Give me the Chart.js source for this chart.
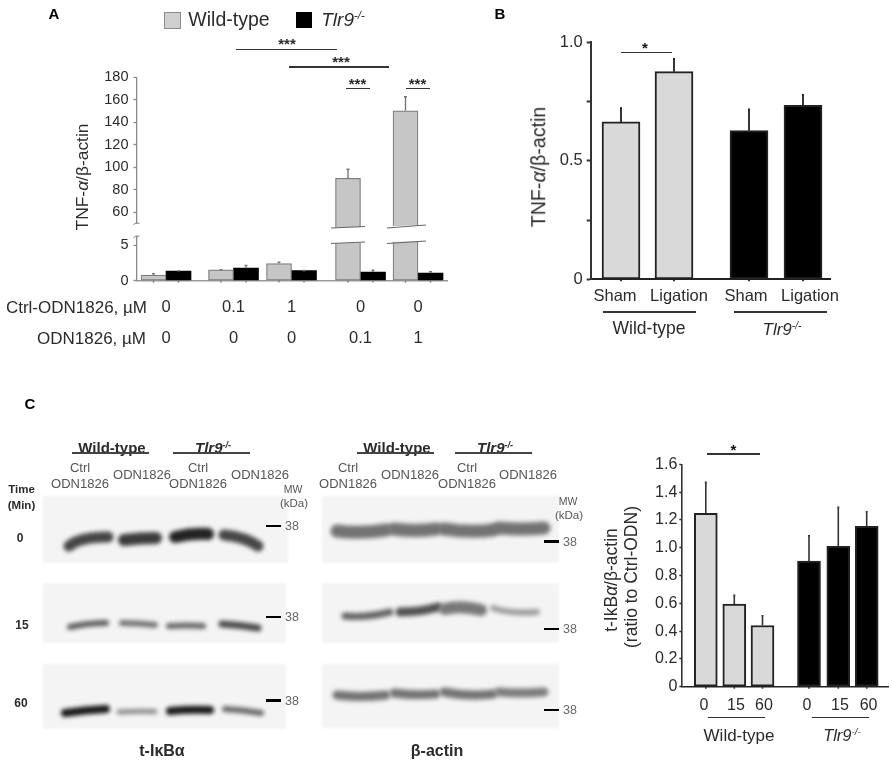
<!DOCTYPE html>
<html>
<head>
<meta charset="utf-8">
<script src="https://cdn.jsdelivr.net/npm/chart.js@4/dist/chart.umd.js"></script>
<style>
html, body { margin: 0; padding: 0; background: #fff; }
#fig { position: relative; width: 893px; height: 765px; overflow: hidden; filter: blur(0.55px); font-family: "Liberation Sans", Arial, sans-serif; color: #2b2b2b; }
#fig canvas { position: absolute; }
.t { position: absolute; white-space: nowrap; transform: translate(-50%, -50%); line-height: 1; }
.v { transform: translate(-50%, -50%) rotate(-90deg); }
.r { transform: translate(-100%, -50%); }
.b { font-weight: bold; }
.rule { position: absolute; }
sup { font-size: 0.6em; line-height: 0; vertical-align: 0.55em; }
</style>
</head>
<body>
<div id="fig">
  <canvas id="blots" width="893" height="765" style="left:0;top:0"></canvas>
  <canvas id="chartA" style="left:60px;top:60px"></canvas>
  <canvas id="chartB" style="left:545px;top:25px"></canvas>
  <canvas id="chartC" style="left:645px;top:440px"></canvas>
</div>
<script>
var KO = "<i>Tlr9<sup>-/-</sup></i>";
var GREEK_TITLE = "TNF-<i>&alpha;</i>/&beta;-actin";

// panel A
var ctrlDoses = ["0", "0.1", "1", "0", "0"];
var odnDoses = ["0", "0", "0", "0.1", "1"];
var aWild = [0.78, 1.5, 2.4, 90, 150];
var aWildErr = [0.2, 0.05, 0.2, 8, 12.5];
var aKo = [1.35, 1.75, 1.4, 1.2, 1.05];
var aKoErr = [0.02, 0.4, 0.03, 0.25, 0.2];
var aTicks = [0, 5, 60, 80, 100, 120, 140, 160, 180];

// panel B
var bCats = ["Sham", "Ligation", "Sham", "Ligation"];
var bVals = [0.664, 0.876, 0.627, 0.734];
var bErr = [0.058, 0.054, 0.09, 0.044];
var bTicks = [0, 0.25, 0.5, 0.75, 1];
var bTickLabels = ["0", "", "0.5", "", "1.0"];

// panel C chart
var cCats = ["0", "15", "60", "0", "15", "60"];
var cVals = [1.247, 0.595, 0.44, 0.904, 1.01, 1.154];
var cErr = [0.223, 0.062, 0.07, 0.182, 0.28, 0.105];
var cTicks = [0, 0.2, 0.4, 0.6, 0.8, 1, 1.2, 1.4, 1.6];
var cTickLabels = ["0", "0.2", "0.4", "0.6", "0.8", "1.0", "1.2", "1.4", "1.6"];

var WT_FILL = "#d9d9d9";

// category axis whose slots sit where the figure has them (groups are not evenly spaced)
class PlacedScale extends Chart.CategoryScale {
    static id = "placed";
    static defaults = {};
    getPixelForValue(value) {
        var i = typeof value === "number" ? value : this.parse(value);
        return this.left + this.options.slots[i];
    }
    getPixelForTick(index) {
        var s = this.options.labelSlots || this.options.slots;
        return this.left + s[index];
    }
}

// value axis with a cut between lowTop and highBottom
class BrokenScale extends Chart.LinearScale {
    static id = "broken";
    static defaults = {};
    buildTicks() {
        return aTicks.map(function (v) { return { value: v }; });
    }
    getPixelForValue(v) {
        var o = this.options;
        var h;
        if (v <= o.lowTop) h = v * o.lowPx;
        else if (v <= o.highBottom) h = o.lowTop * o.lowPx + (v - o.lowTop) / (o.highBottom - o.lowTop) * o.gapPx;
        else h = o.lowTop * o.lowPx + o.gapPx + (v - o.highBottom) * o.highPx;
        return this.bottom - h;
    }
}
Chart.register(PlacedScale, BrokenScale);
Chart.defaults.font.family = '"Liberation Sans", Arial, sans-serif';
Chart.defaults.color = "#2b2b2b";
Chart.defaults.animation = false;

var whiskers = {
    id: "whiskers",
    afterDatasetsDraw: function (chart, args, opts) {
        var ctx = chart.ctx;
        ctx.save();
        ctx.strokeStyle = opts.color;
        ctx.lineWidth = opts.width;
        chart.data.datasets.forEach(function (ds, i) {
            chart.getDatasetMeta(i).data.forEach(function (bar, j) {
                var top = chart.scales.y.getPixelForValue(ds.data[j] + ds.errors[j]);
                ctx.beginPath();
                ctx.moveTo(bar.x, bar.y);
                ctx.lineTo(bar.x, top);
                ctx.moveTo(bar.x - opts.cap, top);
                ctx.lineTo(bar.x + opts.cap, top);
                ctx.stroke();
                // small stub under the x axis
                ctx.beginPath();
                ctx.moveTo(bar.x, chart.scales.y.bottom);
                ctx.lineTo(bar.x, chart.scales.y.bottom + 2);
                ctx.stroke();
            });
        });
        ctx.restore();
    },
};

// white cut through the tall bars and the y axis of panel A
var axisBreak = {
    id: "axisBreak",
    afterDatasetsDraw: function (chart) {
        var ctx = chart.ctx;
        var ax = chart.scales.y.left + chart.scales.y.width;
        var yOf = function (p) { return p - 60; };
        ctx.save();
        ctx.fillStyle = "#fff";
        ctx.beginPath();
        ctx.moveTo(331 - 60, yOf(228));
        ctx.lineTo(426 - 60, yOf(225));
        ctx.lineTo(426 - 60, yOf(241));
        ctx.lineTo(331 - 60, yOf(243.5));
        ctx.closePath();
        ctx.fill();
        ctx.fillRect(ax - 3, yOf(224), 6, 12);
        ctx.strokeStyle = "#666";
        ctx.lineWidth = 1;
        [[331, 228, 365, 226.5], [331, 243.5, 365, 242], [387, 228, 426, 225], [387, 243.5, 426, 241]].forEach(function (s) {
            ctx.beginPath();
            ctx.moveTo(s[0] - 60, yOf(s[1]));
            ctx.lineTo(s[2] - 60, yOf(s[3]));
            ctx.stroke();
        });
        ctx.strokeStyle = "#888";
        [223.5, 236.5].forEach(function (p) {
            ctx.beginPath();
            ctx.moveTo(ax - 3, yOf(p + 1));
            ctx.quadraticCurveTo(ax, yOf(p - 2), ax + 3, yOf(p));
            ctx.stroke();
        });
        ctx.restore();
    },
};

function makeChart(id, w, h, area, config) {
    var canvas = document.getElementById(id);
    var r = canvas.getBoundingClientRect();
    config.options.responsive = false;
    config.options.layout = { padding: { top: area.top - r.top, right: r.left + w - area.right, left: 0, bottom: 0 } };
    config.options.plugins = Object.assign({ legend: { display: false }, tooltip: { enabled: false } }, config.options.plugins);
    config.options.scales.y.afterFit = function (s) { s.width = area.left - r.left; };
    config.options.scales.x.afterFit = function (s) { s.height = r.top + h - area.bottom; };
    canvas.width = w;
    canvas.height = h;
    canvas.style.width = w + "px";
    canvas.style.height = h + "px";
    return new Chart(canvas, config);
}

function yAxis(color, width, tickLen, size, extra) {
    return Object.assign({
        beginAtZero: true,
        border: { color: color, width: width },
        grid: { drawOnChartArea: false, tickLength: tickLen, tickColor: color, tickWidth: width },
        ticks: { font: { size: size }, padding: 5, autoSkip: false },
    }, extra);
}

function listTicks(list) {
    return function (s) { s.ticks = list.map(function (v) { return { value: v }; }); };
}

makeChart("chartA", 400, 300, { left: 136.5, right: 447, top: 77.3, bottom: 280.6 }, {
    type: "bar",
    data: {
        labels: ctrlDoses.map(function (d, i) { return [d, odnDoses[i]]; }),
        datasets: [
            { label: "Wild-type", data: aWild, errors: aWildErr, backgroundColor: "#c6c6c6", borderColor: "#7c7c7c", borderWidth: 1.2, borderSkipped: false, barThickness: 25 },
            { label: "Tlr9-/-", data: aKo, errors: aKoErr, backgroundColor: "#000", borderColor: "#000", borderWidth: 0, barThickness: 25 },
        ],
    },
    options: {
        plugins: { whiskers: { color: "#777", width: 1.4, cap: 1.5 } },
        scales: {
            x: {
                type: "placed", slots: [29.5, 97, 155, 224, 281.5],
                border: { color: "#999", width: 1.5 },
                grid: { display: false, drawTicks: false },
                ticks: { font: { size: 16.5, lineHeight: 1.88 }, padding: 11, maxRotation: 0, autoSkip: false },
            },
            y: yAxis("#8a8a8a", 1.3, 3, 14.5, {
                type: "broken", min: 0, max: 180, lowTop: 6, highBottom: 50,
                lowPx: 7.1, gapPx: 14.7, highPx: 1.125,
            }),
        },
    },
    plugins: [whiskers, axisBreak],
});

makeChart("chartB", 348, 330, { left: 590.7, right: 830, top: 42.3, bottom: 279.3 }, {
    type: "bar",
    data: {
        labels: bCats,
        datasets: [{
            data: bVals, errors: bErr,
            backgroundColor: bVals.map(function (v, i) { return i < 2 ? WT_FILL : "#000"; }),
            borderColor: "#222", borderWidth: 2, borderSkipped: false, barThickness: 38,
        }],
    },
    options: {
        plugins: { whiskers: { color: "#222", width: 1.8, cap: 1 } },
        scales: {
            x: {
                type: "placed", slots: [30.3, 83.3, 158.3, 212.3], labelSlots: [24.3, 88.3, 155.3, 219.3],
                border: { color: "#222", width: 2 },
                grid: { display: false, drawTicks: false },
                ticks: { font: { size: 16.5 }, padding: 7, maxRotation: 0, autoSkip: false },
            },
            y: yAxis("#333", 2, 4, 16.5, {
                min: 0, max: 1, afterBuildTicks: listTicks(bTicks),
                ticks: { font: { size: 16.5 }, padding: 4, autoSkip: false, callback: function (v, i) { return bTickLabels[i]; } },
            }),
        },
    },
    plugins: [whiskers],
});

makeChart("chartC", 248, 310, { left: 682.3, right: 888, top: 464.3, bottom: 686.7 }, {
    type: "bar",
    data: {
        labels: cCats,
        datasets: [{
            data: cVals, errors: cErr,
            backgroundColor: cVals.map(function (v, i) { return i < 3 ? WT_FILL : "#000"; }),
            borderColor: "#222", borderWidth: 2, borderSkipped: false, barThickness: 23,
        }],
    },
    options: {
        plugins: { whiskers: { color: "#333", width: 1.6, cap: 1 } },
        scales: {
            x: {
                type: "placed", slots: [23.5, 52, 80.2, 126.7, 156, 184.4], labelSlots: [21.7, 53.7, 81.7, 124.7, 157.7, 186.3],
                border: { color: "#222", width: 1.6 },
                grid: { display: false, drawTicks: false },
                ticks: { font: { size: 16 }, padding: 9, maxRotation: 0, autoSkip: false },
            },
            y: yAxis("#333", 1.6, 3, 16, {
                min: 0, max: 1.6, afterBuildTicks: listTicks(cTicks),
                ticks: { font: { size: 16 }, padding: 2, autoSkip: false, callback: function (v, i) { return cTickLabels[i]; } },
            }),
        },
    },
    plugins: [whiskers],
});

// ---- everything that is not a chart: labels, rules, blot images
var fig = document.getElementById("fig");

function text(x, y, html, size, cls, color) {
    var n = document.createElement("div");
    n.className = "t " + (cls || "");
    n.style.left = x + "px";
    n.style.top = y + "px";
    n.style.fontSize = size + "px";
    if (color) n.style.color = color;
    n.innerHTML = html;
    fig.appendChild(n);
}

function rule(x0, x1, y, h, color) {
    var n = document.createElement("div");
    n.className = "rule";
    n.style.cssText = "left:" + x0 + "px;top:" + (y - h / 2) + "px;width:" + (x1 - x0) + "px;height:" + h + "px;background:" + (color || "#333");
    fig.appendChild(n);
}

function swatch(x, y, s, fill, border) {
    var n = document.createElement("div");
    n.className = "rule";
    n.style.cssText = "box-sizing:border-box;left:" + x + "px;top:" + y + "px;width:" + s + "px;height:" + s + "px;background:" + fill + ";border:1px solid " + border;
    fig.appendChild(n);
}

text(54, 13, "A", 15, "b", "#000");
text(500, 13, "B", 15, "b", "#000");
text(30, 403, "C", 15, "b", "#000");

// panel A annotation
swatch(164, 12, 17, "#d0d0d0", "#8c8c8c");
swatch(296, 12, 16, "#000", "#000");
text(229, 19.5, "Wild-type", 19.5);
text(343, 19, KO, 19);
text(82.5, 177, GREEK_TITLE, 17.4, "v");
text(147, 307, "Ctrl-ODN1826, &micro;M", 17, "r");
text(146, 338, "ODN1826, &micro;M", 17, "r");
rule(236, 337, 49.7, 1.4);
rule(289, 389, 67, 1.4);
rule(346, 370, 88.7, 1.6);
rule(406, 430, 88.7, 1.6);
text(287, 43, "***", 15, "b");
text(341, 61, "***", 15, "b");
text(357.5, 83, "***", 15, "b");
text(417.5, 83, "***", 15, "b");

// panel B annotation
text(539, 167, GREEK_TITLE, 19.6, "v");
rule(621, 672, 52.3, 1.4);
text(645, 47, "*", 15, "b", "#111");
rule(603, 696, 312, 1.4);
rule(734, 827, 312, 1.4);
text(649, 329, "Wild-type", 17.5);
text(782, 329, KO, 17);

// panel C chart annotation
text(612, 580, "t-IkB<i>&alpha;</i>/&beta;-actin", 17.5, "v");
text(632, 577, "(ratio to Ctrl-ODN)", 17.5, "v");
rule(707, 760, 454, 1.4);
text(733.5, 449, "*", 15, "b", "#111");
rule(708, 765, 717.7, 1.4);
rule(812, 869, 717.7, 1.4);
text(739, 735, "Wild-type", 17);
text(842, 735, KO, 16.5);

// blot headers
function blotHeader(h) {
    text(h.wt, 447, "Wild-type", 15, "b");
    text(h.ko, 447, KO, 15, "b");
    rule(h.wt - 40, h.wt + 37, 453, 1.3, "#444");
    rule(h.ko - 40, h.ko + 37, 453, 1.3, "#444");
    h.ctrl.forEach(function (x) {
        text(x, 466.5, "Ctrl", 13, "", "#555");
        text(x, 482.5, "ODN1826", 13, "", "#555");
    });
    h.odn.forEach(function (x) { text(x, 473.5, "ODN1826", 13, "", "#555"); });
    text(h.mw, h.mwY, "MW", 10.5, "", "#555");
    text(h.mw + 1, h.mwY + 15, "(kDa)", 11.5, "", "#555");
    h.marks.forEach(function (y) {
        rule(h.dash, h.dash + 15, y, 2.5, "#000");
        text(h.dash + 26, y, "38", 12.5, "", "#666");
    });
}
blotHeader({ wt: 112, ko: 213, ctrl: [80, 198], odn: [142, 260], mw: 293, mwY: 489, dash: 266, marks: [526, 617, 700.5] });
blotHeader({ wt: 397, ko: 495, ctrl: [348, 467], odn: [410, 528], mw: 568, mwY: 500.5, dash: 544, marks: [541.5, 629, 710] });

text(21.5, 490, "Time", 11.5, "b");
text(21.5, 506, "(Min)", 11.5, "b");
text(20, 538, "0", 12, "b");
text(22, 625, "15", 12, "b");
text(21, 703, "60", 12, "b");
text(162, 751, "t-I&kappa;B&alpha;", 16, "b");
text(437, 751, "&beta;-actin", 16, "b");

// blot membranes and bands: x0, y0, cx, cy, x1, y1, thickness, grey
var blotPanels = [[43, 496, 245, 67], [43, 583, 243, 60], [43, 664, 243, 65], [322, 496, 237, 67], [322, 583, 237, 60], [322, 664, 237, 64]];
var tIkbBands = [
    [69, 546, 80, 537, 108, 537, 11, 70], [124, 540, 140, 538, 156, 538, 12, 60], [175, 537, 192, 533, 208, 534, 12, 35], [224, 535, 245, 537, 258, 546, 11, 70],
    [70, 627, 88, 623, 106, 623, 6, 95], [122, 623, 138, 623, 155, 625, 6, 115], [169, 626, 186, 625, 203, 626, 6, 105], [222, 624, 240, 625, 258, 628, 7, 75],
    [65, 713, 85, 710, 106, 709, 8, 25], [119, 712, 137, 711, 155, 711.5, 5, 140], [170, 711, 190, 709, 210, 710, 8, 25], [225, 709, 243, 710, 261, 713, 6, 105],
];
var actinBands = [
    [337, 531, 360, 534, 386, 530, 13, 115], [394, 529, 415, 532, 436, 529, 13, 115], [444, 529, 470, 533, 493, 530, 13, 115], [499, 528, 520, 530, 544, 528, 13, 115],
    [345, 616, 365, 618, 390, 612, 7, 100], [400, 612, 420, 612, 438, 607, 9, 80], [445, 609, 460, 605, 481, 610, 12, 120], [493, 608, 510, 614, 537, 612, 6, 155],
    [337, 695, 360, 698, 386, 695, 9, 115], [394, 693, 415, 696, 436, 694, 9, 115], [444, 692, 470, 697, 493, 694, 9, 115], [499, 692, 520, 694, 544, 692, 9, 125],
];

var bctx = document.getElementById("blots").getContext("2d");
bctx.filter = "blur(1px)";
bctx.fillStyle = "#f4f4f4";
blotPanels.forEach(function (p) { bctx.fillRect(p[0], p[1], p[2], p[3]); });
bctx.filter = "blur(2.2px)";
bctx.lineCap = "round";
tIkbBands.concat(actinBands).forEach(function (b) {
    bctx.strokeStyle = "rgb(" + b[7] + "," + b[7] + "," + b[7] + ")";
    bctx.lineWidth = b[6];
    bctx.beginPath();
    bctx.moveTo(b[0], b[1]);
    bctx.quadraticCurveTo(b[2], b[3], b[4], b[5]);
    bctx.stroke();
});
</script>
</body>
</html>
